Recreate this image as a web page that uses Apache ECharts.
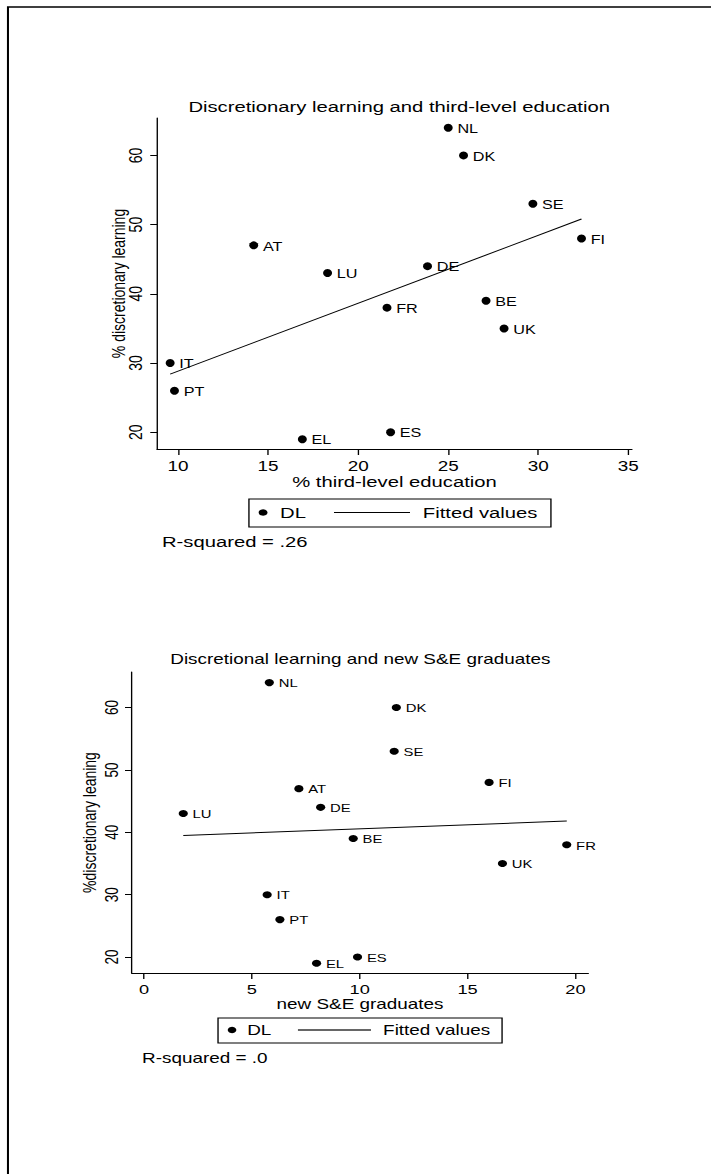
<!DOCTYPE html>
<html>
<head>
<meta charset="utf-8">
<script src="https://cdn.jsdelivr.net/npm/echarts@6/dist/echarts.min.js"></script>
<style>
html,body{margin:0;padding:0;background:#fff;overflow:hidden;}
#wrap{width:711px;height:1174px;overflow:hidden;position:relative;}
#c{width:526.67px;height:1174px;transform:scaleX(1.35);transform-origin:0 0;}
</style>
</head>
<body>
<div id="wrap"><div id="c"></div></div>
<script>
// ---- data ----
const countries = ['NL','DK','SE','FI','AT','DE','LU','BE','FR','UK','IT','PT','ES','EL'];
const dlValues = [64, 60, 53, 48, 47, 44, 43, 39, 38, 35, 30, 26, 20, 19];
const thirdLevel = [25.0, 25.85, 29.7, 32.4, 14.2, 23.85, 18.3, 27.1, 21.6, 28.1, 9.56, 9.8, 21.8, 16.9];
const seGraduates = [5.81, 11.7, 11.6, 16.0, 7.18, 8.19, 1.82, 9.7, 19.6, 16.62, 5.71, 6.3, 9.9, 8.0];
const fittedTop = [[9.56, 28.4], [32.4, 50.8]];
const fittedBottom = [[1.82, 39.5], [19.6, 41.8]];
const xTicksTop = [10, 15, 20, 25, 30, 35];
const xTicksBottom = [0, 5, 10, 15, 20];
const yTicks = [20, 30, 40, 50, 60];
const rSquaredTop = '.26';
const rSquaredBottom = '.0';

const F = 'Liberation Sans, Arial, Helvetica, sans-serif';
const BLK = '#000';

function pts(xs){ return countries.map((c,i)=>({name:c, value:[xs[i], dlValues[i]]})); }

function xAxis(gi, min, max, ticks, name, fs, nameFs, nameGap, margin){
  return {type:'value', gridIndex:gi, min:min, max:max,
    axisLine:{show:true, onZero:false, lineStyle:{color:BLK, width:1}},
    axisTick:{show:true, length:6, customValues:ticks, lineStyle:{color:BLK, width:1}},
    axisLabel:{customValues:ticks, margin:margin, color:BLK, fontSize:fs, fontFamily:F},
    splitLine:{show:false},
    name:name, nameLocation:'middle', nameGap:nameGap, nameMoveOverlap:false,
    nameTextStyle:{color:BLK, fontSize:nameFs, fontFamily:F}};
}
function yAxis(gi, min, max, name, fs, nameFs, nameGap, margin){
  return {type:'value', gridIndex:gi, min:min, max:max,
    axisLine:{show:true, onZero:false, lineStyle:{color:BLK, width:1}},
    axisTick:{show:true, length:5, customValues:yTicks, lineStyle:{color:BLK, width:1}},
    axisLabel:{customValues:yTicks, rotate:90, margin:margin, color:BLK, fontSize:fs, fontFamily:F},
    splitLine:{show:false},
    name:name, nameLocation:'middle', nameRotate:90, nameGap:nameGap, nameMoveOverlap:false,
    nameTextStyle:{color:BLK, fontSize:nameFs, fontFamily:F}};
}
function legendItem(name, icon, left, top, w, h, fs, pad, color){
  return {data:[{name:name, icon:icon, itemStyle:{color:color, opacity:1, borderWidth:0}}], left:left, top:top, orient:'horizontal', padding:0,
    itemWidth:w, itemHeight:h, symbolKeepAspect:false, selectedMode:false,
    textStyle:{color:BLK, fontSize:fs, fontFamily:F, padding:[0,0,0,pad]}};
}

const chart = echarts.init(document.getElementById('c'), null, {renderer:'svg'});
chart.setOption({
  animation:false,
  backgroundColor:'#fff',
  title:[
    {text:'Discretionary learning and third-level education', left:295.7, top:99, textAlign:'center', padding:0,
     textStyle:{color:BLK, fontSize:15, fontWeight:'normal', fontFamily:F}},
    {text:'Discretional learning and new S&E graduates', left:266.9, top:652, textAlign:'center', padding:0,
     textStyle:{color:BLK, fontSize:14, fontWeight:'normal', fontFamily:F}},
    {text:'R-squared = ' + rSquaredTop, left:120, top:534, padding:0,
     textStyle:{color:BLK, fontSize:15, fontWeight:'normal', fontFamily:F}},
    {text:'R-squared = ' + rSquaredBottom, left:105.2, top:1051, padding:0,
     textStyle:{color:BLK, fontSize:14, fontWeight:'normal', fontFamily:F}}
  ],
  grid:[
    {left:116.3, top:118, width:351.8, height:331, containLabel:false, outerBoundsMode:'none'},
    {left:97.6, top:672, width:338.2, height:301, containLabel:false, outerBoundsMode:'none'}
  ],
  xAxis:[
    xAxis(0, 8.83, 35.2, xTicksTop, '% third-level education', 14, 15, 25, 10),
    xAxis(1, -0.57, 20.6, xTicksBottom, 'new S&E graduates', 13.5, 14, 24.5, 9)
  ],
  yAxis:[
    yAxis(0, 17.58, 65.4, '% discretionary learning', 14, 14, 21, 9),
    yAxis(1, 17.44, 65.7, '%discretionary leaning', 13.5, 14, 24, 8)
  ],
  legend:[
    legendItem('DL', 'circle', 191.6, 505, 6.6, 8.5, 15, 4.3, BLK),
    legendItem('Fitted values', 'rect', 247.4, 505, 56.3, 1, 15, 4.5, BLK),
    legendItem('DL', 'circle', 168.7, 1023, 6.4, 8, 14, 3, BLK),
    legendItem('Fitted values', 'rect', 220.7, 1023, 54.1, 1.5, 14, 4, '#333')
  ],
  graphic:[
    {type:'polyline', silent:true, shape:{points:[[5.9,1174],[5.9,7],[527,7]]}, style:{stroke:BLK, lineWidth:1.5, fill:null}},
    {type:'rect', silent:true, shape:{x:184.4, y:499, width:223.7, height:28}, style:{stroke:BLK, lineWidth:1, fill:null}},
    {type:'rect', silent:true, shape:{x:161.5, y:1018, width:210.4, height:25}, style:{stroke:BLK, lineWidth:1, fill:null}}
  ],
  series:[
    {name:'DL', type:'scatter', xAxisIndex:0, yAxisIndex:0, data:pts(thirdLevel),
     symbol:'circle', symbolSize:[6.6,8], itemStyle:{color:BLK, opacity:1},
     label:{show:true, position:'right', distance:3.5, formatter:'{b}', color:BLK, fontSize:12, fontFamily:F, offset:[0,1]}},
    {name:'Fitted values', type:'line', xAxisIndex:0, yAxisIndex:0, data:fittedTop,
     symbol:'none', lineStyle:{color:BLK, width:1}, itemStyle:{color:BLK}},
    {name:'DL', type:'scatter', xAxisIndex:1, yAxisIndex:1, data:pts(seGraduates),
     symbol:'circle', symbolSize:[6.8,7], itemStyle:{color:BLK, opacity:1},
     label:{show:true, position:'right', distance:3.5, formatter:'{b}', color:BLK, fontSize:11, fontFamily:F, offset:[0,1]}},
    {name:'Fitted values', type:'line', xAxisIndex:1, yAxisIndex:1, data:fittedBottom,
     symbol:'none', lineStyle:{color:BLK, width:1}, itemStyle:{color:BLK}}
  ]
});
</script>
</body>
</html>
